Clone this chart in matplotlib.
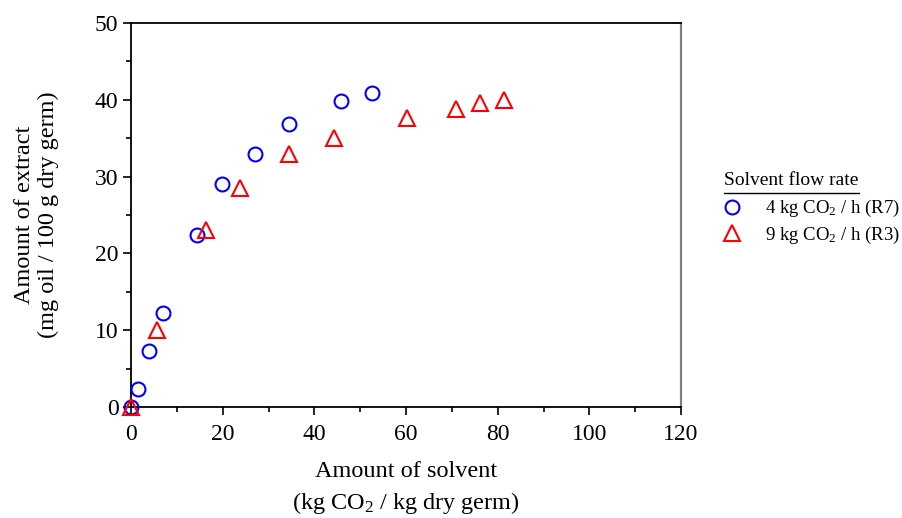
import matplotlib
matplotlib.use("Agg")
import matplotlib.pyplot as plt
from matplotlib.lines import Line2D
from matplotlib.ticker import MultipleLocator

plt.rcParams['font.family'] = ['Liberation Serif', 'DejaVu Serif']
plt.rcParams['mathtext.fontset'] = 'custom'
plt.rcParams['mathtext.rm'] = 'Liberation Serif'
plt.rcParams['mathtext.it'] = 'Liberation Serif:italic'

# extraction curves at two CO2 flow rates
solvent_r7 = [0.0, 1.5, 3.9, 7.0, 14.4, 19.9, 27.1, 34.5, 45.8, 52.6]
extract_r7 = [0.0, 2.3, 7.3, 12.3, 22.4, 29.0, 32.9, 36.8, 39.8, 40.9]
solvent_r3 = [0.0, 5.7, 16.4, 23.8, 34.5, 44.3, 60.2, 70.9, 76.1, 81.4]
extract_r3 = [0.0, 10.0, 23.0, 28.5, 33.0, 35.0, 37.6, 38.8, 39.6, 40.0]

label_r7 = '4 kg CO$_2$ / h (R7)'
label_r3 = '9 kg CO$_2$ / h (R3)'

fig = plt.figure(figsize=(9.03, 5.18), dpi=100)
ax = fig.add_axes([0.1451, 0.2143, 0.6091, 0.7413])

ax.plot(solvent_r7, extract_r7, 'o', ms=10, mfc='none', mec='#0000ff', mew=1.5,
        label=label_r7, clip_on=False, zorder=3)
ax.plot(solvent_r3, extract_r3, '^', ms=11, mfc='none', mec='#ff0000', mew=1.5,
        label=label_r3, clip_on=False, zorder=3)

ax.set_xlim(0, 120)
ax.set_ylim(0, 50)
ax.xaxis.set_major_locator(MultipleLocator(20))
ax.xaxis.set_minor_locator(MultipleLocator(10))
ax.yaxis.set_major_locator(MultipleLocator(10))
ax.yaxis.set_minor_locator(MultipleLocator(5))
ax.tick_params(which='both', direction='out', labelsize=17, top=False, right=False)
ax.tick_params(which='major', length=6, width=1.2, pad=3)
ax.tick_params(axis='x', which='major', pad=6)
ax.tick_params(which='minor', length=3.5, width=1.2)

for side in ('left', 'bottom', 'top'):
    ax.spines[side].set_linewidth(1.3)
ax.spines['right'].set_color('#808080')
ax.spines['right'].set_linewidth(1.6)

ax.set_xlabel('Amount of solvent\n(kg CO$_2$ / kg dry germ)', fontsize=17.5,
              linespacing=1.4, labelpad=12)
ax.set_ylabel('Amount of extract\n(mg oil / 100 g dry germ)', fontsize=17.5,
              linespacing=1.15, labelpad=26)

leg = fig.legend(loc='upper left', bbox_to_anchor=(0.79, 0.632), frameon=False,
                 fontsize=13.5, handletextpad=1.15, handlelength=1.2,
                 labelspacing=0.28, borderaxespad=0)

t = fig.text(0.802, 0.642, 'Solvent flow rate', fontsize=14, va='baseline')
fig.canvas.draw()
bb = t.get_window_extent().transformed(fig.transFigure.inverted())
fig.add_artist(Line2D([bb.x0, bb.x1], [bb.y0 - 0.006, bb.y0 - 0.006],
                      transform=fig.transFigure, color='black', lw=1.0))

fig.savefig('out.png', dpi=100)
